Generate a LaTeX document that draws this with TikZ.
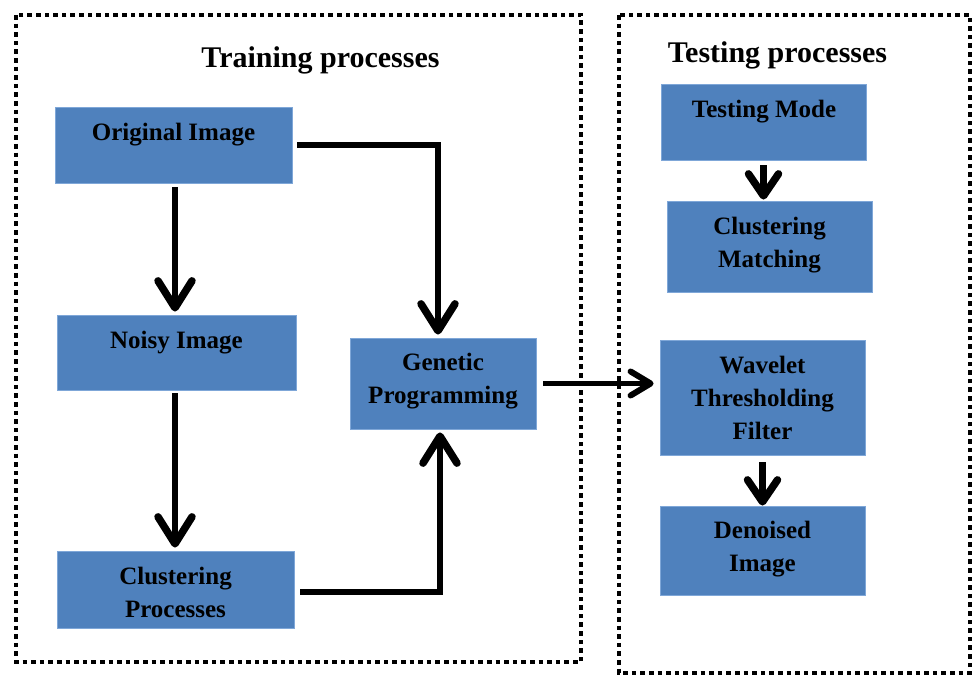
\documentclass[tikz,border=0pt]{standalone}
\usepackage{fontspec}
\setmainfont{Liberation Serif}
\usetikzlibrary{arrows.meta}

\definecolor{boxfill}{HTML}{4F81BD}
\definecolor{boxedge}{HTML}{7FA7D8}

\tikzset{
  procbox/.style={rectangle, fill=boxfill, draw=boxedge, line width=0.8pt, inner sep=0pt},
  boxtext/.style={align=center, inner sep=0pt, font=\bfseries\fontsize{25}{33}\selectfont},
  titletext/.style={inner sep=0pt, font=\bfseries\fontsize{30}{36}\selectfont},
  frame/.style={line width=4.6pt, dash pattern=on 4.6pt off 4pt},
  bigarrow/.style={line width=6.5pt, -{Straight Barb[length=27pt, width=34pt, line width=7.5pt, round]}},
  midarrow/.style={line width=6.5pt, -{Straight Barb[length=22pt, width=30pt, line width=7.5pt, round]}},
  smallarrow/.style={line width=5pt, -{Straight Barb[length=20pt, width=24pt, line width=6pt, round]}}
}

\begin{document}
\begin{tikzpicture}[x=1pt, y=-1pt]
  \useasboundingbox (0,0) rectangle (974,676);

  % dotted frames around the two stages
  \draw[frame] (16,15) rectangle (581,662);
  \draw[frame] (619,15) rectangle (970,673);

  % stage titles
  \node[titletext] (traintitle) at (320.5,60) {Training processes};
  \node[titletext] (testtitle) at (777.5,55) {Testing processes};

  % training stage boxes
  \node[procbox, minimum width=237pt, minimum height=76pt] (orig) at (173.5,145) {};
  \node[procbox, minimum width=239pt, minimum height=75pt] (noisy) at (176.5,352.5) {};
  \node[procbox, minimum width=237pt, minimum height=77pt] (clust) at (175.5,589.5) {};
  \node[procbox, minimum width=186pt, minimum height=91pt] (gp) at (443,383.5) {};

  % testing stage boxes
  \node[procbox, minimum width=205pt, minimum height=76pt] (tmode) at (763.5,122) {};
  \node[procbox, minimum width=205pt, minimum height=91pt] (cmatch) at (769.5,246.5) {};
  \node[procbox, minimum width=205pt, minimum height=115pt] (wav) at (762.5,397.5) {};
  \node[procbox, minimum width=205pt, minimum height=89pt] (den) at (762.5,550.5) {};

  % box labels
  \node[boxtext] (origtxt) at (173.5,135) {Original Image};
  \node[boxtext] (noisytxt) at (176.5,343) {Noisy Image};
  \node[boxtext] (clusttxt) at (175.5,592) {Clustering\\Processes};
  \node[boxtext] (gptxt) at (443,381) {Genetic\\Programming};
  \node[boxtext] (tmodetxt) at (764,112) {Testing Mode};
  \node[boxtext] (cmatchtxt) at (769.5,245) {Clustering\\Matching};
  \node[boxtext] (wavtxt) at (762.5,397.5) {Wavelet\\Thresholding\\Filter};
  \node[boxtext] (dentxt) at (762.5,549) {Denoised\\Image};

  % training connectors
  \draw[bigarrow] ([xshift=1.5pt, yshift=-4pt]orig.south) -- ([xshift=1.5pt, yshift=3pt]orig.south |- noisy.north);
  \draw[bigarrow] ([xshift=-1.5pt, yshift=-3pt]noisy.south) -- ([xshift=-1.5pt, yshift=3pt]noisy.south |- clust.north);
  \draw[bigarrow] ([xshift=5pt]orig.east) -| ([xshift=-5pt, yshift=3pt]gp.north);
  \draw[bigarrow] ([xshift=6pt, yshift=-2.5pt]clust.east) -| ([xshift=-3pt, yshift=-3pt]gp.south);

  % hand-over to the testing stage
  \draw[smallarrow] ([xshift=7pt]gp.east) -- ([xshift=-6pt]gp.east -| wav.west);

  % testing connectors
  \draw[midarrow] ([yshift=-5pt]tmode.south) -- ([yshift=1pt]tmode.south |- cmatch.north);
  \draw[midarrow] ([yshift=-7pt]wav.south) -- (den.north);
\end{tikzpicture}
\end{document}
